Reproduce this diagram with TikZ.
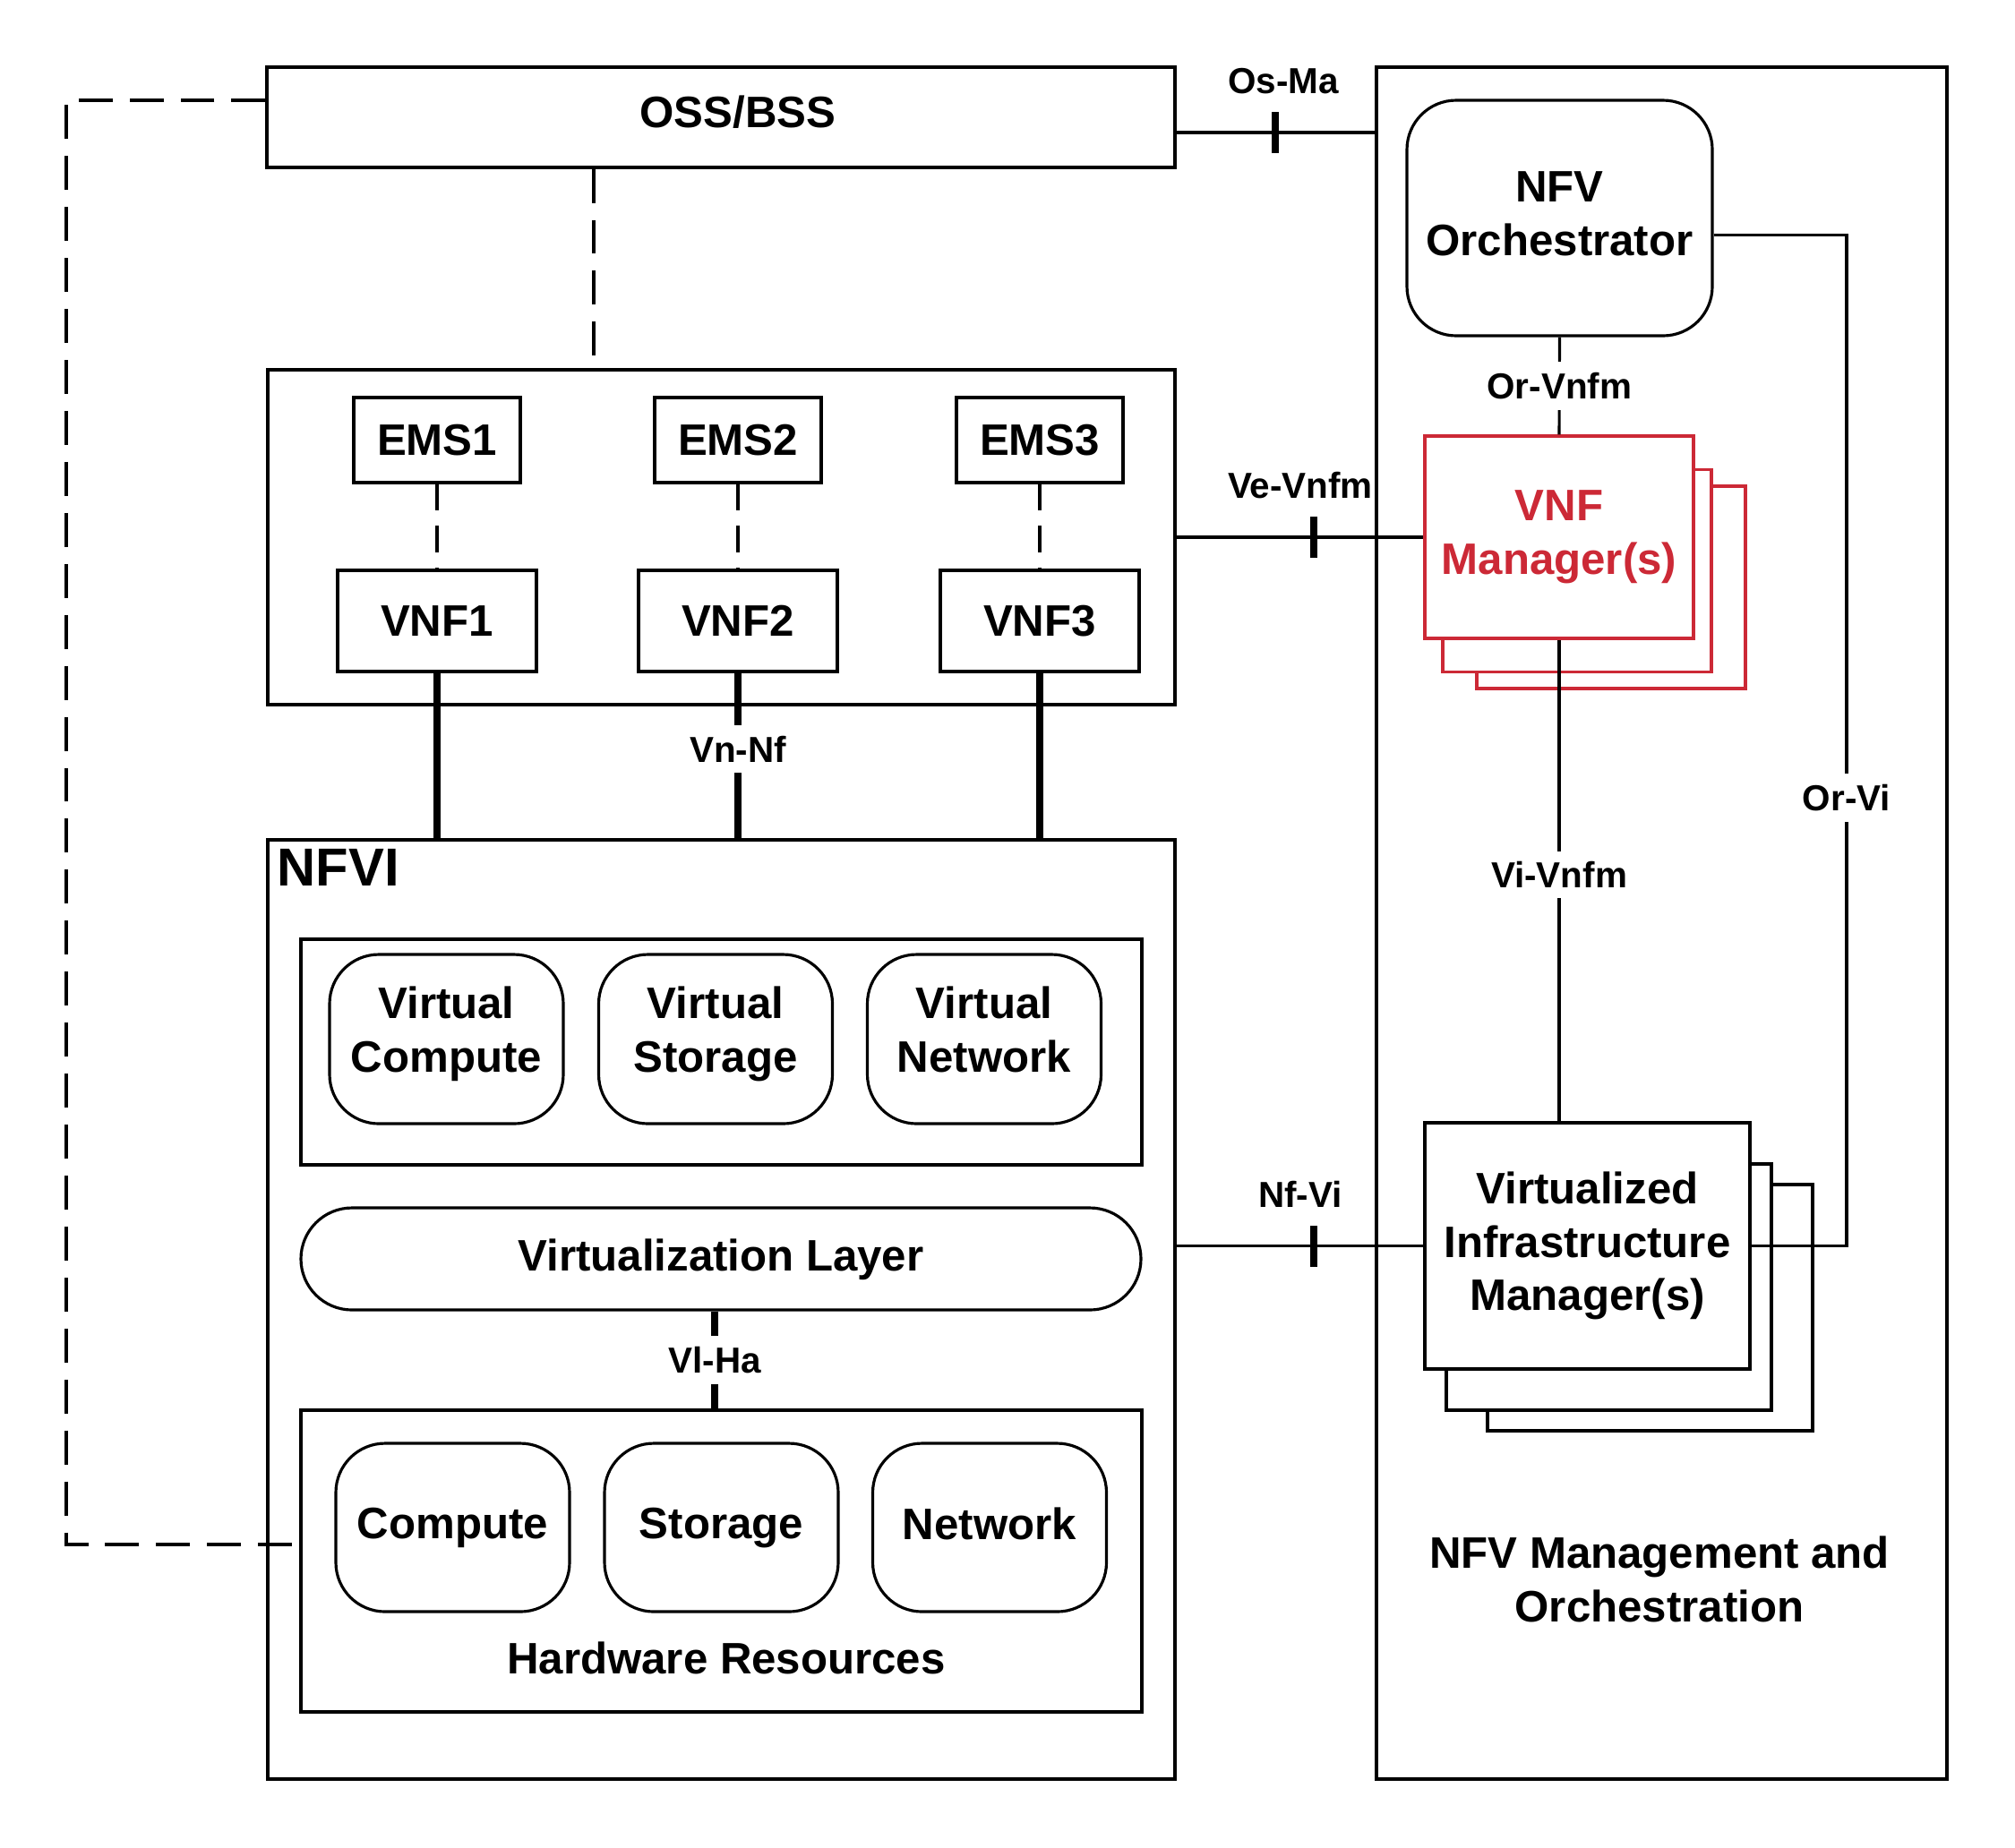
\documentclass[tikz,border=0pt]{standalone}
\usepackage{fontspec}
\setmainfont{Liberation Sans}
\usepackage{tikz}
\usetikzlibrary{positioning, calc}
\definecolor{vnfmred}{RGB}{204,41,54}
\tikzset{
every node/.style={font=\bfseries\fontsize{14}{17}\selectfont, align=center}, % bold sans text everywhere
dims/.style 2 args={minimum width=#1, minimum height=#2}, % block size
box/.style={draw, fill=white, inner sep=0pt}, % plain rectangular block
softbox/.style={box, rounded corners=0.55cm, text depth=0.25em}, % rounded block
ifline/.style={line width=2.2pt}, % heavy reference point line
dashline/.style={dash pattern=on 10.8pt off 5.4pt}, % long dashed link
shortdash/.style={dash pattern=on 8.5pt off 4.8pt, line width=0.9pt}, % EMS to VNF link
iflabel/.style={font=\bfseries\fontsize{11.5}{14}\selectfont, fill=white}, % reference point name
ticklabel/.style={iflabel, fill=none}, % name over a bar
tickmark/.style={fill=black, inner sep=0pt, minimum width=2.2pt, minimum height=0.46cm}, % bar across an interface line
}

\begin{document}
\begin{tikzpicture}[line width=0.9pt]
            \useasboundingbox (0,0) rectangle (22.5,-20.63);
            % management and orchestration
            \node[box, dims={6.37cm}{19.12cm}] (mano) at (18.555,-10.31) {};
            \node (manotext) at (18.53,-17.64) {NFV Management and\\Orchestration};
            \node[softbox, dims={3.41cm}{2.63cm}, text depth=0.3em] (orch) at (17.415,-2.435) {NFV\\Orchestrator};
            \node[box, draw=vnfmred, dims={3cm}{2.26cm}] (vnfmc) at (17.99,-6.56) {};
            \node[box, draw=vnfmred, dims={3cm}{2.26cm}] (vnfmb) at (17.61,-6.375) {};
            \node[box, draw=vnfmred, text=vnfmred, dims={3cm}{2.26cm}] (vnfm) at (17.41,-6.00) {VNF\\Manager(s)};
            \node[box, dims={3.63cm}{2.75cm}] (vimc) at (18.425,-14.605) {};
            \node[box, dims={3.63cm}{2.75cm}] (vimb) at (17.965,-14.375) {};
            \node[box, dims={3.63cm}{2.75cm}] (vim) at (17.725,-13.915) {Virtualized\\Infrastructure\\Manager(s)};

            % OSS and VNFs
            \node[box, dims={10.14cm}{1.12cm}] (oss) at (8.05,-1.31) {};
            \node (osstext) at ([xshift=0.19cm, yshift=0.06cm]oss.center) {OSS/BSS};
            \node[box, dims={10.13cm}{3.74cm}] (vnfbox) at (8.055,-6.00) {};
            \node[box, dims={2.22cm}{1.13cm}] (vnf1) at (4.88,-6.935) {VNF1};
            \node[box, dims={2.22cm}{1.13cm}, right of=vnf1, node distance=3.36cm] (vnf2) {VNF2};
            \node[box, dims={2.22cm}{1.13cm}, right of=vnf2, node distance=3.37cm] (vnf3) {VNF3};
            \node[box, dims={1.86cm}{0.95cm}, above of=vnf1, node distance=2.02cm] (ems1) {EMS1};
            \node[box, dims={1.86cm}{0.95cm}, above of=vnf2, node distance=2.02cm] (ems2) {EMS2};
            \node[box, dims={1.86cm}{0.95cm}, above of=vnf3, node distance=2.02cm] (ems3) {EMS3};

            % NFVI
            \node[box, dims={10.13cm}{10.49cm}] (nfvi) at (8.055,-14.625) {};
            \node[anchor=north west, inner sep=0pt, font=\bfseries\fontsize{17}{20}\selectfont] (nfvitext) at (3.08,-9.47) {NFVI};
            \node[box, dims={9.39cm}{2.52cm}] (virt) at (8.055,-11.75) {};
            \node[softbox, dims={2.61cm}{1.89cm}, text depth=0.6em] (vcomp) at (4.985,-11.605) {Virtual\\Compute};
            \node[softbox, dims={2.61cm}{1.89cm}, text depth=0.6em, right of=vcomp, node distance=3.005cm] (vstor) {Virtual\\Storage};
            \node[softbox, dims={2.61cm}{1.89cm}, text depth=0.6em, right of=vstor, node distance=3.0cm] (vnet) {Virtual\\Network};
            \node[softbox, dims={9.38cm}{1.14cm}, rounded corners=0.57cm] (layer) at (8.05,-14.06) {Virtualization Layer};
            \node[box, dims={9.39cm}{3.37cm}] (hw) at (8.055,-17.435) {};
            \node[softbox, dims={2.61cm}{1.88cm}] (comp) at (5.055,-17.06) {Compute};
            \node[softbox, dims={2.61cm}{1.88cm}, right of=comp, node distance=3.0cm] (stor) {Storage};
            \node[softbox, dims={2.61cm}{1.88cm}, right of=stor, node distance=2.995cm] (net) {Network};
            \node (hwtext) at (8.11,-18.52) {Hardware Resources};

            % dashed links
            \coordinate (dl) at (0.74,-17.25);
            \coordinate (osem) at (6.63,-3);
            \draw[dashline] ([yshift=0.19cm]oss.west) -| (dl) -- (dl -| hw.west);
            \draw[dashline] (oss.south -| osem) -- (vnfbox.north -| osem);
            \draw[shortdash] (ems1.south) -- (vnf1.north);
            \draw[shortdash] (ems2.south) -- (vnf2.north);
            \draw[shortdash] (ems3.south) -- (vnf3.north);

            % reference points
            \coordinate (osma) at (14.24,-1.48);
            \draw (oss.east |- osma) -- (mano.west |- osma);
            \node[tickmark] (tk1) at (osma) {};
            \node[ticklabel, above=0.05cm of tk1, xshift=0.09cm] {Os-Ma};
            \draw (vnfbox.east) -- (vnfm.west);
            \node[tickmark] (tk2) at (14.67,-6.00) {};
            \node[ticklabel, above=0.05cm of tk2, xshift=-0.15cm] {Ve-Vnfm};
            \draw (nfvi.east |- vim.west) -- (vim.west);
            \node[tickmark] (tk3) at (14.67,-13.915) {};
            \node[ticklabel, above=0.05cm of tk3, xshift=-0.15cm] {Nf-Vi};
            \draw (orch.south) -- (vnfm.north) node[midway, iflabel] {Or-Vnfm};
            \draw (vnfm.south) -- (vnfm.south |- vim.north) node[pos=0.488, iflabel] {Vi-Vnfm};
            \coordinate (orvi) at (20.62,-8.91);
            \draw ([yshift=-0.19cm]orch.east) -| (orvi) |- (vim.east);
            \node[iflabel] at (orvi) {Or-Vi};
            \draw[ifline] (vnf1.south) -- (vnf1.south |- nfvi.north);
            \draw[ifline] (vnf2.south) -- (vnf2.south |- nfvi.north) node[pos=0.46, iflabel] {Vn-Nf};
            \draw[ifline] (vnf3.south) -- (vnf3.south |- nfvi.north);
            \coordinate (vlha) at (7.98,-15.2);
            \draw[ifline] (layer.south -| vlha) -- (hw.north -| vlha) node[midway, iflabel] {Vl-Ha};
\end{tikzpicture}
\end{document}
